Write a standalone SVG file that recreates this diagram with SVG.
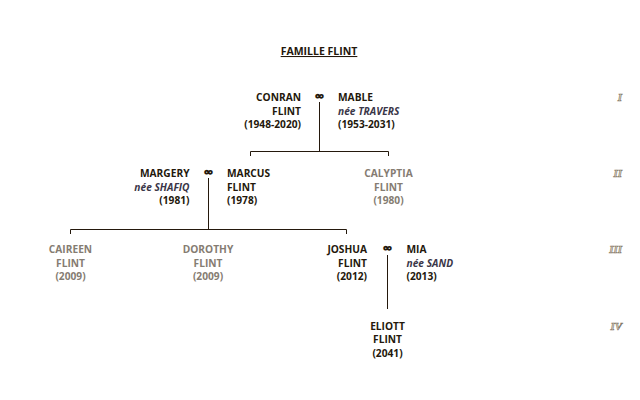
<svg xmlns="http://www.w3.org/2000/svg" width="640" height="400" viewBox="0 0 640 400">
<style>
text{font-family:"Open Sans","Liberation Sans",sans-serif;font-weight:700;font-size:10.2px;fill:#24180c}
.r{text-anchor:end}.c{text-anchor:middle}.l{text-anchor:start}
.it{font-style:italic;fill:#3a3648}
.g{fill:#857c72}
.title{font-size:10.5px;text-decoration:underline}
.marr{font-size:14px;font-weight:800}
.gen{font-family:"Liberation Serif","DejaVu Serif",serif;font-style:italic;font-weight:700;font-size:11px;fill:#ddd5c6;stroke:#7f7565;stroke-width:0.6;text-anchor:end}
.ln{stroke:#24180c;stroke-width:1;fill:none}
</style>
<rect width="640" height="400" fill="#ffffff"/>
<text class="title c" x="319" y="55">FAMILLE FLINT</text>
<g id="generations">
<text class="gen" x="622" y="101">I</text>
<text class="gen" x="622" y="177">II</text>
<text class="gen" x="622" y="253">III</text>
<text class="gen" x="622" y="330">IV</text>
</g>
<g id="connectors">
<path class="ln" d="M319.5 102V151.5M250.5 156V151.5H388.5V156"/>
<path class="ln" d="M208.5 178V229.5M70.5 234V229.5H346.5V234"/>
<path class="ln" d="M387.5 255V309"/>
</g>
<g id="conran"><text class="r" x="301" y="101">CONRAN</text><text class="r" x="301" y="114.5">FLINT</text><text class="r" x="301" y="128">(1948-2020)</text></g>
<g id="marr1"><text class="c marr" x="319.5" y="100.5">∞</text></g>
<g id="mable"><text class="l" x="338" y="101">MABLE</text><text class="l it" x="338" y="114.5">née TRAVERS</text><text class="l" x="338" y="128">(1953-2031)</text></g>
<g id="margery"><text class="r" x="189.5" y="177">MARGERY</text><text class="r it" x="189.5" y="190.5">née SHAFIQ</text><text class="r" x="189.5" y="204">(1981)</text></g>
<g id="marr2"><text class="c marr" x="208.5" y="176.5">∞</text></g>
<g id="marcus"><text class="l" x="227" y="177">MARCUS</text><text class="l" x="227" y="190.5">FLINT</text><text class="l" x="227" y="204">(1978)</text></g>
<g id="calyptia"><text class="c g" x="388.5" y="177">CALYPTIA</text><text class="c g" x="388.5" y="190.5">FLINT</text><text class="c g" x="388.5" y="204">(1980)</text></g>
<g id="caireen"><text class="c g" x="70.5" y="253">CAIREEN</text><text class="c g" x="70.5" y="266.5">FLINT</text><text class="c g" x="70.5" y="280">(2009)</text></g>
<g id="dorothy"><text class="c g" x="208" y="253">DOROTHY</text><text class="c g" x="208" y="266.5">FLINT</text><text class="c g" x="208" y="280">(2009)</text></g>
<g id="joshua"><text class="r" x="367" y="253">JOSHUA</text><text class="r" x="367" y="266.5">FLINT</text><text class="r" x="367" y="280">(2012)</text></g>
<g id="marr3"><text class="c marr" x="387.5" y="252.5">∞</text></g>
<g id="mia"><text class="l" x="406.5" y="253">MIA</text><text class="l it" x="406.5" y="266.5">née SAND</text><text class="l" x="406.5" y="280">(2013)</text></g>
<g id="eliott"><text class="c" x="387.5" y="329.5">ELIOTT</text><text class="c" x="387.5" y="343">FLINT</text><text class="c" x="387.5" y="356.5">(2041)</text></g>
</svg>
